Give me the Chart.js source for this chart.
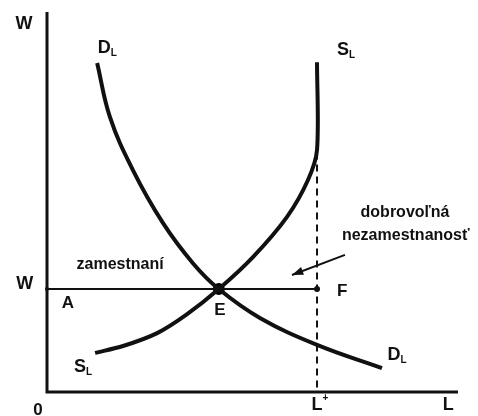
<!DOCTYPE html>
<html>
<head>
<meta charset="utf-8">
<script src="https://cdn.jsdelivr.net/npm/chart.js@4/dist/chart.umd.min.js"></script>
<style>
  html, body { margin: 0; padding: 0; background: #fff; }
  #wrap { width: 478px; height: 416px; }
</style>
</head>
<body>
<div id="wrap"><canvas id="chart"></canvas></div>
<script>
// labour market: demand D_L, supply S_L (L on x, W on y, 0..100 units)
const demandL = [12.2, 15.3, 20.9, 28.2, 35.5, 41.8, 51.8, 65.7, 81.5];
const demandW = [86.6, 72.4, 58.4, 44.5, 33.9, 27.1, 19.5, 12.4, 6.3];
const supplyL = [11.7, 18.5, 26.8, 34.1, 41.8, 50.1, 58.4, 63.5, 65.7, 65.7];
const supplyW = [10.3, 12.1, 15.5, 20.5, 27.1, 35.5, 46.1, 55.8, 63.7, 86.8];
const wage = 27.1;            // W
const equilibriumL = 41.8;    // E
const fullEmploymentL = 65.7; // L+
const dashedTopW = 63;
const arrowL = [72.5, 59.6];
const arrowW = [36.1, 30.8];

const pts = (xs, ys) => xs.map((x, i) => ({ x: x, y: ys[i] }));
const FONT = '"Liberation Sans", Arial, sans-serif';

const labelsPlugin = {
  id: 'labels',
  afterDatasetsDraw(chart) {
    const ctx = chart.ctx;
    const sx = chart.scales.x, sy = chart.scales.y;
    const px = v => sx.getPixelForValue(v);
    const py = v => sy.getPixelForValue(v);

    // arrow head
    const x1 = px(arrowL[0]), y1 = py(arrowW[0]);
    const x2 = px(arrowL[1]), y2 = py(arrowW[1]);
    const a = Math.atan2(y2 - y1, x2 - x1);
    ctx.save();
    ctx.fillStyle = '#111';
    ctx.beginPath();
    ctx.moveTo(x2, y2);
    ctx.lineTo(x2 - 12 * Math.cos(a - 0.35), y2 - 12 * Math.sin(a - 0.35));
    ctx.lineTo(x2 - 12 * Math.cos(a + 0.35), y2 - 12 * Math.sin(a + 0.35));
    ctx.closePath();
    ctx.fill();

    ctx.textAlign = 'center';
    ctx.textBaseline = 'middle';
    const text = (t, x, y, size, weight) => {
      ctx.font = (weight || 'bold') + ' ' + size + 'px ' + FONT;
      ctx.fillText(t, px(x), py(y));
    };
    const withSub = (t, s, x, y, sup) => {
      ctx.font = 'bold 18px ' + FONT;
      const w = ctx.measureText(t).width;
      const cx = px(x), cy = py(y);
      ctx.fillText(t, cx, cy);
      ctx.font = 'bold 10px ' + FONT;
      ctx.textAlign = 'left';
      ctx.fillText(s, cx + w / 2, cy + (sup ? -7 : 5));
      ctx.textAlign = 'center';
    };

    text('W', -5.6, 96.8, 18);
    text('W', -5.4, 28.4, 18);
    text('0', -2.2, -4.7, 17);
    withSub('L', '+', 65.7, -3.4, true);
    text('L', 97.6, -3.4, 18);
    text('E', 42.1, 21.6, 17);
    text('A', 5.1, 23.4, 17);
    text('F', 71.8, 26.6, 17);
    withSub('D', 'L', 13.9, 90.5);
    withSub('S', 'L', 72.0, 90.0);
    withSub('S', 'L', 8.0, 6.6);
    withSub('D', 'L', 84.4, 9.7);
    text('zamestnaní', 17.8, 33.4, 16);
    text('dobrovoľná', 87.1, 47.1, 16);
    text('nezamestnanosť', 87.3, 41.1, 16);
    ctx.restore();
  }
};

new Chart(document.getElementById('chart'), {
  type: 'scatter',
  data: {
    datasets: [
      { // axes
        data: [{ x: 0, y: 100 }, { x: 0, y: 0 }, { x: 100, y: 0 }],
        borderColor: '#111', borderWidth: 3, showLine: true, pointRadius: 0, tension: 0
      },
      { // demand
        data: pts(demandL, demandW),
        borderColor: '#111', borderWidth: 4, showLine: true, pointRadius: 0, tension: 0.4
      },
      { // supply
        data: pts(supplyL, supplyW),
        borderColor: '#111', borderWidth: 4, showLine: true, pointRadius: 0, tension: 0.3
      },
      { // wage line
        data: [{ x: 0, y: wage }, { x: fullEmploymentL, y: wage }],
        borderColor: '#111', borderWidth: 2, showLine: true,
        pointRadius: [2, 3], pointBackgroundColor: '#111', pointBorderWidth: 0
      },
      { // L+ dashed
        data: [{ x: fullEmploymentL, y: dashedTopW }, { x: fullEmploymentL, y: 0 }],
        borderColor: '#111', borderWidth: 2, borderDash: [7, 5], showLine: true, pointRadius: 0
      },
      { // arrow shaft
        data: pts(arrowL, arrowW),
        borderColor: '#111', borderWidth: 2, showLine: true, pointRadius: 0
      },
      { // equilibrium
        data: [{ x: equilibriumL, y: wage }],
        pointRadius: 6, pointBackgroundColor: '#000', pointBorderWidth: 0
      }
    ]
  },
  options: {
    responsive: true,
    maintainAspectRatio: false,
    animation: false,
    clip: false,
    layout: { padding: { left: 47, right: 20, top: 12, bottom: 24 } },
    scales: {
      x: { type: 'linear', min: 0, max: 100, display: false },
      y: { type: 'linear', min: 0, max: 100, display: false }
    },
    plugins: { legend: { display: false }, tooltip: { enabled: false } }
  },
  plugins: [labelsPlugin]
});
</script>
</body>
</html>
